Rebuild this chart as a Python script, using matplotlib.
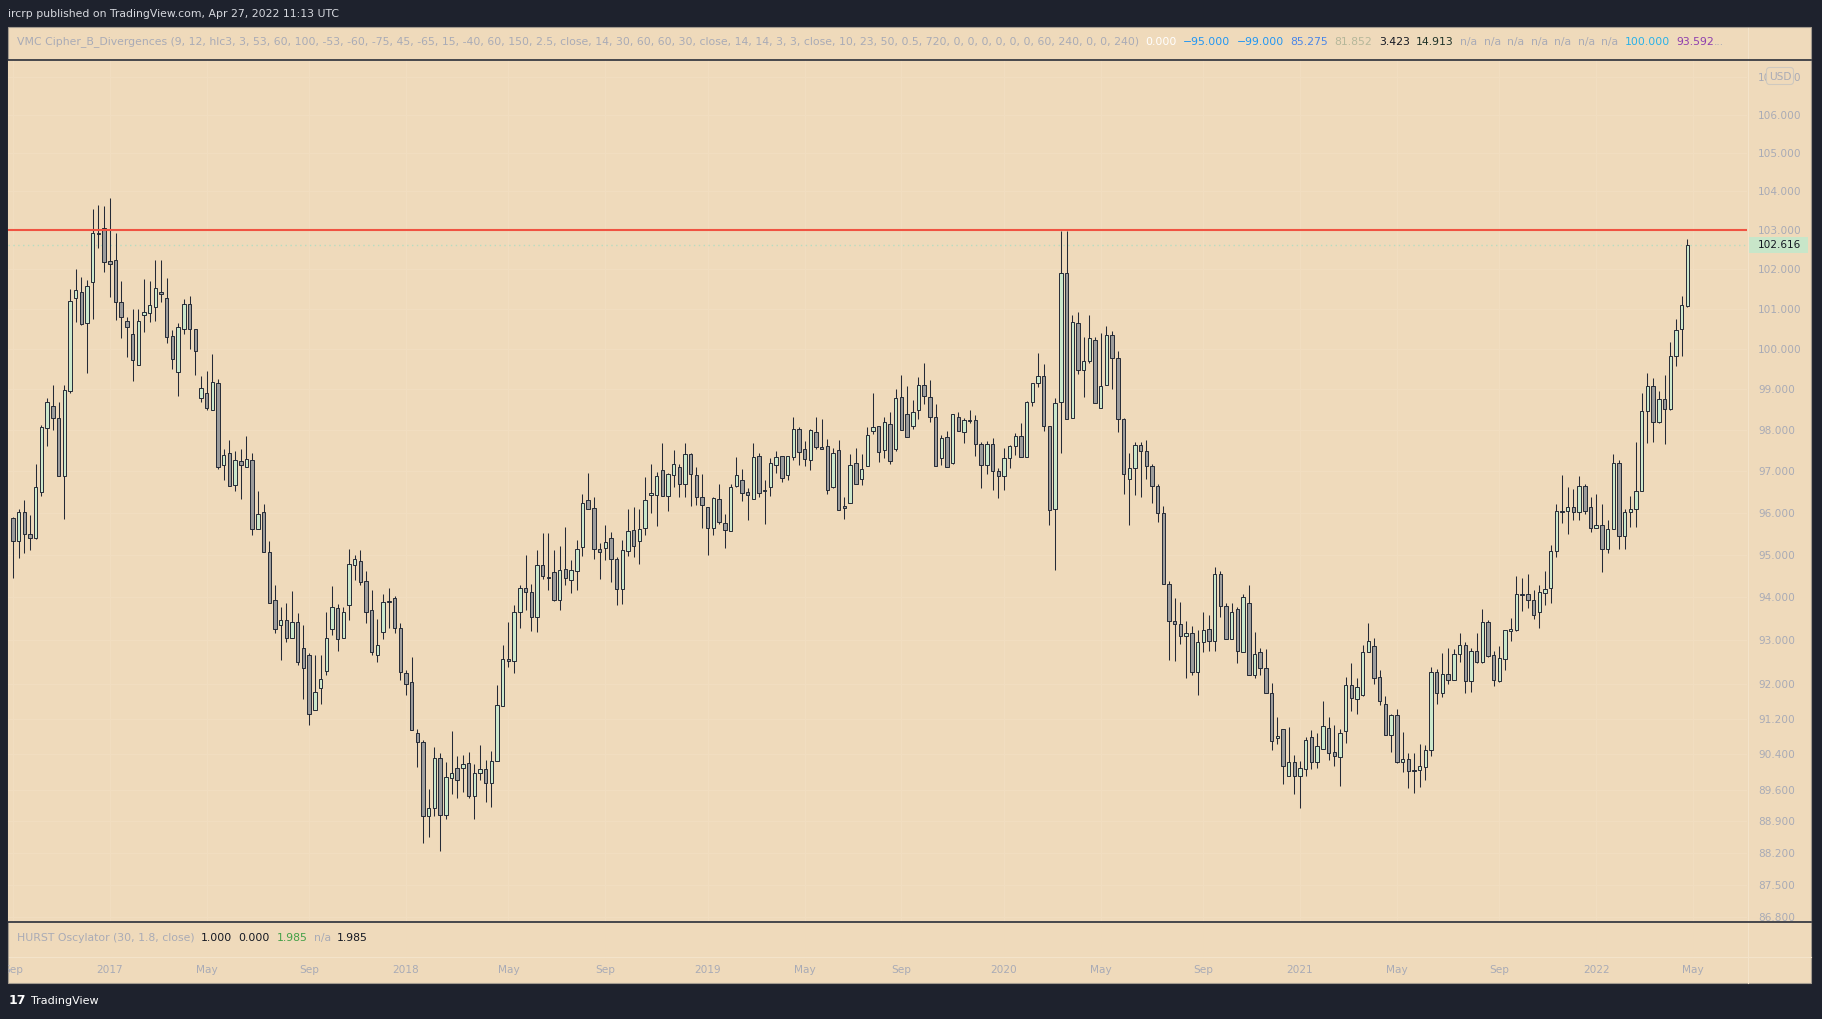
#!/usr/bin/env python
import numpy as np
import pandas as pd
import matplotlib
matplotlib.use("Agg")
import matplotlib.pyplot as plt
import matplotlib.transforms as mtransforms
from matplotlib.patches import Rectangle, FancyBboxPatch
from matplotlib.ticker import FixedLocator, FixedFormatter, NullLocator

W, H, DPI = 1822, 1019, 100

# weekly candles, first bar is the week of 2016-09-05
first_week = "2016-09-05"

opens = [
    95.88, 95.32, 96.02, 95.50, 95.40, 96.50, 98.04, 98.60, 98.29, 96.88,
    98.96, 101.27, 101.42, 100.65, 101.67, 102.92, 103.05, 102.21, 102.24, 101.18,
    100.71, 100.36, 99.60, 100.84, 100.90, 101.06, 101.42, 101.27, 100.33, 99.42,
    100.50, 101.12, 100.50, 98.78, 98.90, 98.48, 99.15, 97.14, 97.44, 96.66,
    97.25, 97.10, 97.28, 95.62, 96.02, 95.06, 93.94, 93.36, 93.48, 93.06,
    93.42, 92.83, 92.65, 91.41, 91.91, 92.30, 93.27, 93.76, 93.06, 93.83,
    94.75, 94.86, 94.39, 93.70, 92.66, 93.20, 93.90, 93.98, 93.29, 92.25,
    92.04, 90.88, 90.67, 89.01, 89.19, 90.31, 89.05, 89.86, 90.08, 90.08,
    90.20, 89.46, 89.97, 90.06, 89.75, 90.24, 91.50, 92.56, 92.52, 93.65,
    94.23, 94.13, 93.54, 94.76, 94.49, 94.59, 93.94, 94.67, 94.40, 94.63,
    95.18, 96.31, 96.12, 95.14, 95.16, 95.40, 94.90, 94.20, 95.09, 95.59,
    95.33, 95.64, 96.43, 96.43, 97.03, 96.41, 96.91, 97.10, 96.70, 97.42,
    96.91, 96.38, 96.14, 95.64, 96.33, 95.76, 95.57, 96.65, 96.79, 96.50,
    96.33, 97.37, 96.53, 96.63, 97.16, 97.37, 96.91, 97.35, 98.02, 97.54,
    97.28, 97.94, 97.58, 97.60, 96.63, 97.51, 96.17, 96.24, 97.20, 96.82,
    97.13, 97.97, 98.09, 97.51, 98.14, 97.55, 98.80, 98.38, 98.09, 98.48,
    99.10, 98.80, 98.33, 97.32, 97.82, 97.20, 98.33, 97.94, 98.24, 98.24,
    97.66, 97.15, 97.66, 97.01, 96.89, 97.32, 97.61, 97.85, 97.34, 98.68,
    99.15, 99.32, 98.09, 96.10, 98.68, 101.92, 98.29, 100.64, 99.48, 99.70,
    100.23, 98.53, 99.10, 100.35, 99.77, 98.26, 96.82, 97.08, 97.63, 97.49,
    97.13, 96.65, 96.00, 94.32, 93.44, 93.39, 93.09, 93.18, 92.28, 92.97,
    93.27, 92.99, 94.55, 93.79, 93.04, 93.72, 92.74, 93.88, 92.21, 92.72,
    92.37, 91.78, 90.77, 90.97, 89.90, 90.22, 89.92, 90.06, 90.79, 90.22,
    90.51, 90.99, 90.45, 90.33, 90.93, 91.96, 91.65, 91.74, 92.72, 92.88,
    92.16, 91.53, 90.84, 91.29, 90.22, 90.29, 90.04, 90.04, 90.12, 90.49,
    92.28, 91.79, 92.22, 92.09, 92.69, 92.90, 92.07, 92.75, 92.49, 93.43,
    92.65, 92.07, 92.58, 93.22, 93.25, 94.06, 94.09, 93.95, 93.65, 94.11,
    94.22, 95.09, 96.05, 96.05, 96.14, 96.02, 96.65, 96.14, 95.63, 95.71,
    95.13, 95.61, 97.20, 95.45, 96.02, 96.09, 96.53, 98.47, 99.09, 98.20,
    98.77, 98.52, 99.82, 100.49, 101.08,
]

highs = [
    95.90, 96.10, 96.30, 95.96, 97.18, 98.12, 98.78, 99.10, 98.68, 99.10,
    101.50, 102.02, 101.80, 101.73, 103.55, 103.65, 103.63, 103.82, 102.92, 101.70,
    100.81, 101.00, 101.00, 101.75, 101.70, 102.25, 102.25, 101.78, 100.46, 100.65,
    101.25, 101.33, 100.50, 99.33, 99.46, 99.88, 99.26, 97.55, 97.76, 97.50,
    97.55, 97.86, 97.44, 96.52, 96.20, 95.34, 94.28, 93.78, 93.88, 94.14,
    93.63, 93.35, 92.70, 92.65, 92.67, 93.67, 94.26, 93.84, 93.78, 95.14,
    95.00, 95.12, 94.62, 94.17, 93.49, 94.08, 94.22, 94.03, 93.40, 92.31,
    92.62, 90.98, 90.71, 89.61, 90.56, 90.42, 90.22, 90.93, 90.35, 90.38,
    90.45, 90.18, 90.60, 90.28, 90.48, 91.98, 92.89, 93.43, 93.82, 94.29,
    95.00, 94.31, 95.12, 95.52, 95.52, 95.12, 95.21, 95.66, 94.88, 95.36,
    96.44, 96.96, 96.38, 95.28, 95.72, 95.55, 94.95, 95.36, 96.10, 96.15,
    96.08, 96.85, 97.18, 96.99, 97.68, 96.96, 97.52, 97.18, 97.68, 97.44,
    97.10, 96.94, 96.14, 96.38, 96.68, 95.98, 96.68, 97.35, 97.06, 96.60,
    97.68, 97.44, 96.79, 97.32, 97.49, 97.37, 97.37, 98.31, 98.07, 97.73,
    98.02, 98.33, 98.26, 97.78, 97.56, 97.75, 96.38, 97.42, 97.56, 97.42,
    98.07, 98.90, 98.11, 98.31, 98.43, 99.00, 99.35, 99.07, 98.73, 99.30,
    99.65, 99.22, 98.63, 97.87, 97.97, 98.38, 98.43, 98.29, 98.50, 98.36,
    97.70, 97.73, 97.80, 97.08, 97.56, 97.63, 97.92, 98.17, 98.70, 99.15,
    99.90, 99.62, 98.09, 98.78, 102.98, 102.98, 100.85, 100.92, 100.30, 100.85,
    100.30, 100.40, 100.56, 100.45, 99.95, 98.29, 97.44, 97.70, 97.70, 97.75,
    97.18, 96.70, 96.17, 94.39, 93.98, 93.90, 93.46, 93.34, 93.23, 93.65,
    93.58, 94.72, 94.62, 93.88, 93.88, 93.77, 94.09, 94.30, 93.20, 92.83,
    92.79, 92.02, 91.24, 90.97, 91.02, 90.38, 90.24, 90.79, 90.95, 90.88,
    91.60, 91.24, 91.07, 90.97, 92.16, 92.48, 92.14, 92.90, 93.40, 93.06,
    92.32, 91.73, 91.31, 91.42, 90.90, 90.42, 90.42, 90.63, 90.60, 92.39,
    92.34, 92.71, 92.83, 92.80, 93.18, 92.95, 92.83, 93.18, 93.72, 93.48,
    92.75, 92.86, 93.23, 93.51, 94.50, 94.45, 94.55, 94.17, 94.28, 94.61,
    95.23, 96.22, 96.92, 96.63, 96.58, 96.88, 96.68, 96.38, 96.46, 96.22,
    95.83, 97.42, 97.28, 96.10, 96.41, 97.71, 98.90, 99.40, 99.27, 98.95,
    99.35, 100.17, 100.75, 101.33, 102.77,
]

lows = [
    94.46, 94.92, 95.04, 95.12, 95.38, 96.40, 97.60, 98.00, 96.88, 95.86,
    98.90, 100.66, 100.60, 99.41, 100.75, 102.54, 101.93, 101.29, 100.72, 100.28,
    99.79, 99.21, 99.60, 100.42, 100.66, 100.69, 101.17, 100.15, 99.50, 98.84,
    100.36, 100.00, 99.36, 98.69, 98.50, 98.48, 97.06, 96.80, 96.64, 96.52,
    96.32, 97.10, 95.47, 95.62, 95.08, 93.86, 93.16, 92.54, 92.95, 93.06,
    92.43, 91.64, 91.05, 91.41, 91.53, 92.19, 93.12, 92.75, 93.06, 93.48,
    94.40, 94.28, 93.40, 92.67, 92.50, 93.02, 93.28, 93.16, 92.08, 91.74,
    90.94, 90.12, 88.42, 88.56, 89.03, 88.25, 88.96, 89.50, 89.41, 89.56,
    89.42, 88.95, 89.83, 89.33, 89.22, 90.24, 91.50, 92.38, 92.25, 93.28,
    93.71, 93.22, 93.20, 94.43, 94.18, 93.92, 93.71, 94.29, 94.10, 94.18,
    94.98, 96.10, 94.91, 94.44, 94.87, 94.36, 93.83, 93.85, 94.98, 94.94,
    94.79, 95.47, 96.00, 95.68, 96.41, 96.04, 96.63, 96.38, 96.38, 96.16,
    96.18, 95.65, 95.00, 95.46, 95.73, 95.16, 95.57, 96.63, 96.28, 95.82,
    96.33, 96.38, 95.74, 96.41, 96.96, 96.74, 96.79, 97.28, 97.16, 97.12,
    97.03, 97.54, 97.54, 96.46, 96.60, 96.07, 95.86, 96.24, 96.70, 96.66,
    97.13, 97.90, 97.22, 97.31, 97.17, 97.48, 97.99, 97.82, 98.02, 98.26,
    98.63, 98.19, 97.13, 97.14, 97.10, 97.18, 97.97, 97.68, 98.17, 97.36,
    96.59, 96.94, 96.54, 96.35, 96.54, 97.07, 97.39, 97.34, 97.34, 98.60,
    99.05, 97.97, 95.71, 94.64, 97.44, 98.26, 98.29, 99.38, 98.82, 99.65,
    98.65, 98.53, 99.10, 99.00, 97.94, 96.46, 95.70, 96.42, 96.38, 96.82,
    96.23, 95.77, 94.32, 92.54, 92.52, 92.92, 92.13, 92.21, 91.75, 92.72,
    92.76, 92.76, 93.54, 93.02, 93.02, 92.48, 92.74, 92.19, 92.14, 92.21,
    91.78, 90.49, 90.63, 89.74, 89.90, 89.51, 89.20, 89.92, 90.06, 90.08,
    90.51, 90.26, 90.13, 89.69, 90.65, 91.38, 91.31, 91.71, 92.72, 92.00,
    91.51, 90.84, 90.45, 90.20, 89.99, 89.64, 89.53, 89.67, 89.83, 90.36,
    91.53, 91.70, 92.00, 92.09, 92.51, 91.79, 91.82, 92.47, 92.47, 92.61,
    91.94, 92.04, 92.31, 92.99, 93.22, 93.68, 93.76, 93.49, 93.29, 93.83,
    93.87, 94.96, 95.75, 95.50, 95.84, 95.84, 95.98, 95.54, 95.63, 94.60,
    95.04, 95.61, 95.13, 95.15, 95.66, 95.66, 96.53, 97.69, 97.72, 98.16,
    97.67, 98.50, 99.57, 99.82, 101.05,
]

closes = [
    95.32, 96.02, 95.50, 95.40, 96.62, 98.07, 98.68, 98.29, 96.88, 98.98,
    101.20, 101.48, 100.63, 101.57, 102.92, 102.90, 102.18, 102.13, 101.17, 100.80,
    100.55, 99.72, 100.70, 100.92, 101.10, 101.52, 101.37, 100.29, 99.75, 100.55,
    101.12, 100.50, 99.96, 99.02, 98.53, 99.17, 97.10, 97.39, 96.64, 97.28,
    97.14, 97.30, 95.62, 95.98, 95.08, 93.86, 93.27, 93.48, 93.06, 93.42,
    92.51, 92.35, 91.31, 91.82, 92.12, 93.06, 93.78, 93.04, 93.65, 94.78,
    94.90, 94.36, 93.65, 92.73, 92.89, 93.90, 93.92, 93.28, 92.28, 92.00,
    90.94, 90.67, 89.01, 89.19, 90.31, 89.05, 89.88, 89.97, 89.81, 90.18,
    89.47, 89.97, 90.06, 89.75, 90.24, 91.52, 92.56, 92.52, 93.65, 94.23,
    94.13, 93.54, 94.76, 94.50, 94.45, 93.94, 94.65, 94.45, 94.65, 95.14,
    96.24, 96.10, 95.14, 95.06, 95.30, 94.91, 94.20, 95.11, 95.57, 95.20,
    95.62, 96.31, 96.48, 96.89, 96.41, 96.94, 97.18, 96.70, 97.42, 96.94,
    96.38, 96.19, 95.64, 96.36, 95.78, 95.59, 96.63, 96.91, 96.48, 96.43,
    97.35, 96.48, 96.55, 97.20, 97.35, 96.84, 97.37, 98.02, 97.47, 97.30,
    97.99, 97.58, 97.54, 96.55, 97.44, 96.07, 96.12, 97.16, 96.70, 97.06,
    97.87, 98.07, 97.46, 98.19, 97.25, 98.78, 97.99, 97.82, 98.43, 99.10,
    98.83, 98.31, 97.13, 97.80, 97.10, 98.38, 97.97, 98.24, 98.23, 97.66,
    97.15, 97.66, 97.01, 96.89, 97.32, 97.61, 97.85, 97.34, 98.68, 99.15,
    99.32, 98.09, 96.07, 98.65, 101.92, 98.26, 100.67, 99.48, 99.70, 100.28,
    98.65, 99.07, 100.35, 99.77, 98.26, 96.94, 97.08, 97.63, 97.49, 97.13,
    96.65, 96.00, 94.32, 93.44, 93.37, 93.09, 93.18, 92.28, 92.95, 93.25,
    92.99, 94.55, 93.79, 93.04, 93.67, 92.76, 94.02, 92.21, 92.69, 92.35,
    91.78, 90.70, 90.81, 90.13, 90.22, 89.92, 90.08, 90.72, 90.22, 90.58,
    91.04, 90.42, 90.36, 90.88, 91.96, 91.67, 91.92, 92.72, 92.99, 92.14,
    91.60, 90.84, 91.29, 90.22, 90.29, 90.02, 90.02, 90.13, 90.49, 92.28,
    91.79, 92.22, 92.09, 92.69, 92.90, 92.07, 92.75, 92.49, 93.43, 92.63,
    92.09, 92.60, 93.23, 93.27, 94.07, 94.09, 93.95, 93.60, 94.12, 94.20,
    95.09, 96.05, 96.03, 96.14, 96.02, 96.65, 96.05, 95.63, 95.71, 95.13,
    95.61, 97.20, 95.45, 96.02, 96.09, 96.53, 98.47, 99.09, 98.20, 98.77,
    98.52, 99.82, 100.47, 101.10, 102.616,
]

price_ticks = [107.0, 106.0, 105.0, 104.0, 103.0, 102.0, 101.0, 100.0, 99.0,
               98.0, 97.0, 96.0, 95.0, 94.0, 93.0, 92.0, 91.2, 90.4, 89.6,
               88.9, 88.2, 87.5, 86.8]
price_range = (86.70, 107.46)
resistance = 103.0
last_price = 102.616

time_label_dates = ["2016-09-01", "2017-01-01", "2017-05-01", "2017-09-01",
                    "2018-01-01", "2018-05-01", "2018-09-01", "2019-01-01",
                    "2019-05-01", "2019-09-01", "2020-01-01", "2020-05-01",
                    "2020-09-01", "2021-01-01", "2021-05-01", "2021-09-01",
                    "2022-01-01", "2022-05-01"]
time_label_text = ["Sep", "2017", "May", "Sep", "2018", "May", "Sep", "2019",
                   "May", "Sep", "2020", "May", "Sep", "2021", "May", "Sep",
                   "2022", "May"]

header = "ircrp published on TradingView.com, Apr 27, 2022 11:13 UTC"
vmc_title = ("VMC Cipher_B_Divergences (9, 12, hlc3, 3, 53, 60, 100, -53, -60, -75, 45, "
             "-65, 15, -40, 60, 150, 2.5, close, 14, 30, 60, 60, 30, close, 14, 14, 3, 3, "
             "close, 10, 23, 50, 0.5, 720, 0, 0, 0, 0, 0, 0, 60, 240, 0, 0, 240)")
vmc_values = ["0.000", "\u221295.000", "\u221299.000", "85.275", "81.852", "3.423",
              "14.913", "n/a", "n/a", "n/a", "n/a", "n/a", "n/a", "n/a", "100.000", "93.592"]
hurst_title = "HURST Oscylator (30, 1.8, close)"
hurst_values = ["1.000", "0.000", "1.985", "n/a", "1.985"]

# colours
DARK = "#1e222d"
PANE = "#efdabb"
GRID = "#f1ddc0"
TXT = "#a9abb6"
EDGE = "#252a36"
UP = "#cbe8cc"
DOWN = "#9b9b9b"
vmc_colors = ["#ffffff", "#2196f3", "#2196f3", "#4a86e8", "#b5b79a", "#131722",
              "#1f3328", TXT, TXT, TXT, TXT, TXT, TXT, TXT, "#29b1e8", "#8e3fae"]
hurst_colors = ["#131722", "#131722", "#43a047", TXT, "#131722"]

FS = 7.6      # axis labels
FS_ROW = 7.85  # legend rows
plt.rcParams["font.family"] = ["DejaVu Sans"]

fig = plt.figure(figsize=(W / DPI, H / DPI), dpi=DPI, facecolor=DARK)


def px_axes(x0, y0, x1, y1, z):
    a = fig.add_axes([x0 / W, 1 - y1 / H, (x1 - x0) / W, (y1 - y0) / H])
    a.set_zorder(z)
    return a


def overlay(z):
    a = px_axes(0, 0, W, H, z)
    a.set_xlim(0, W)
    a.set_ylim(H, 0)
    a.axis("off")
    a.patch.set_alpha(0)
    return a


bg = overlay(0)
top = overlay(5)

# outer frame and header
bg.add_patch(Rectangle((8, 27), 1803, 956, facecolor=PANE, edgecolor="#a49c8f", lw=0.8))
bg.text(8, 13.5, header, color="#d6d8de", fontsize=FS_ROW, va="center", ha="left")
bg.text(9, 1001, "17", color="white", fontsize=9, fontweight="heavy", va="center", ha="left")
bg.text(31, 1001, "TradingView", color="white", fontsize=FS_ROW + 0.2, va="center", ha="left")

# main price pane
ax = px_axes(8, 60, 1747, 922, 1)
ax.set_facecolor(PANE)
for s in ax.spines.values():
    s.set_visible(False)

n = len(closes)
x = np.arange(n)
o = np.array(opens)
c = np.array(closes)
hi = np.array(highs)
lo = np.array(lows)
up = c >= o
body_lo = np.minimum(o, c)
body_hi = np.maximum(o, c)

ax.set_yscale("log")
ax.set_ylim(*price_range)
ax.set_xlim(-0.878, 304.48)

week0 = pd.Timestamp(first_week)
label_pos = [np.ceil((pd.Timestamp(d) - week0).days / 7) for d in time_label_dates]

for yv in price_ticks:
    ax.axhline(yv, color=GRID, lw=0.8, zorder=0)
for xv in label_pos:
    ax.axvline(xv, color=GRID, lw=0.8, zorder=0)

ax.vlines(x, lo, hi, color=EDGE, lw=0.75, zorder=2)
ax.bar(x, np.maximum(body_hi - body_lo, 0.004), bottom=body_lo, width=0.6,
       color=np.where(up, UP, DOWN), edgecolor=EDGE, linewidth=0.7, zorder=3)

ax.axhline(resistance, color="#f05342", lw=1.5, zorder=4)
ax.axhline(last_price, color="#b7dcc0", lw=1.0, ls=(0, (1, 2.5)), zorder=1)

ax.set_xticks([])
ax.yaxis.tick_right()
ax.yaxis.set_major_locator(FixedLocator(price_ticks))
ax.yaxis.set_major_formatter(FixedFormatter(["%.3f" % v for v in price_ticks]))
ax.yaxis.set_minor_locator(NullLocator())
ax.tick_params(axis="y", length=0, pad=7.9, labelsize=FS, labelcolor=TXT)

# time axis labels
tax = px_axes(8, 957, 1747, 983, 2)
tax.set_xlim(ax.get_xlim())
tax.axis("off")
tr = mtransforms.blended_transform_factory(tax.transData, tax.transAxes)
for xv, lab in zip(label_pos, time_label_text):
    tax.text(xv, 0.5, lab, transform=tr, ha="center", va="center", color=TXT,
             fontsize=FS, clip_on=True)

# pane separators
top.add_patch(Rectangle((1748, 922.5), 62.5, 34, facecolor=PANE, edgecolor="none"))
top.plot([1747.5, 1747.5], [27.5, 982.5], color="#f3e3ca", lw=0.8)
top.plot([8.5, 1810.5], [956.5, 956.5], color="#f3e3ca", lw=0.8)
top.plot([8, 1811], [60, 60], color="#2a2e39", lw=1.2)
top.plot([8, 1811], [922, 922], color="#2a2e39", lw=1.2)

# last price tag
y_last = fig.get_figheight() * DPI - ax.transData.transform((0, last_price))[1]
top.add_patch(Rectangle((1748, y_last - 8), 60, 16, facecolor="#c8e6c9", edgecolor="none"))
top.text(1758, y_last, "%.3f" % last_price, color="#131722", fontsize=FS,
         va="center", ha="left")

# currency badge over the top tick
top.add_patch(FancyBboxPatch((1768, 69), 24, 14, boxstyle="round,pad=1.5,rounding_size=3",
                             facecolor=PANE, edgecolor="#cfc9bf", lw=0.8))
top.text(1780, 76.5, "USD", color=TXT, fontsize=FS, ha="center", va="center")


def text_row(a, x0, y0, title, values, colors, tail=None):
    prev = a.text(x0, y0, title, color=TXT, fontsize=FS_ROW, ha="left", va="center")
    for s, col in zip(values, colors):
        prev = a.annotate(s, xy=(1, 0), xycoords=prev, xytext=(4.6, 0),
                          textcoords="offset points", color=col, fontsize=FS_ROW,
                          ha="left", va="bottom")
    if tail:
        a.annotate(tail, xy=(1, 0), xycoords=prev, xytext=(0, 0),
                   textcoords="offset points", color=TXT, fontsize=FS_ROW,
                   ha="left", va="bottom")


text_row(top, 17, 41.5, vmc_title, vmc_values, vmc_colors, tail="...")
text_row(top, 17, 938, hurst_title, hurst_values, hurst_colors)

fig.savefig("out.png", dpi=DPI, facecolor=DARK)
